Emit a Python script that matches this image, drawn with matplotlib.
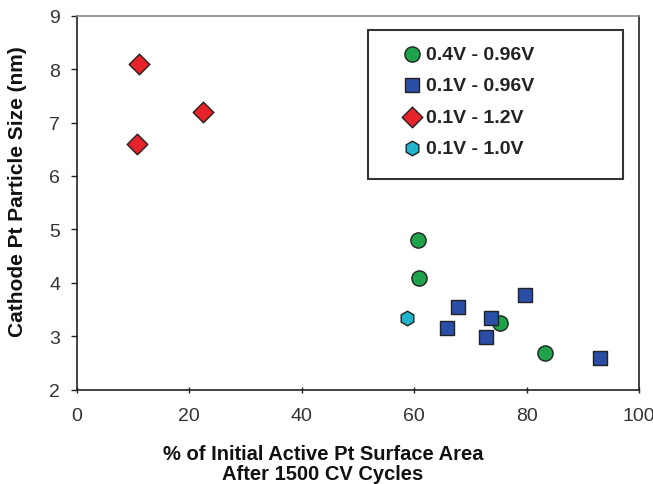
import matplotlib
matplotlib.use("Agg")
import matplotlib.pyplot as plt
from matplotlib.patches import Rectangle

plt.rcParams['font.family'] = ['Liberation Sans', 'DejaVu Sans']

# Data
green_x = [60.6, 60.9, 75.3, 83.2]
green_y = [4.8, 4.09, 3.24, 2.69]
blue_x = [67.8, 65.8, 73.6, 72.8, 79.7, 93.0]
blue_y = [3.55, 3.15, 3.35, 2.99, 3.77, 2.59]
red_x = [11.1, 22.4, 10.7]
red_y = [8.1, 7.2, 6.6]
cyan_x = [58.7]
cyan_y = [3.35]
labels = ["0.4V - 0.96V", "0.1V - 0.96V", "0.1V - 1.2V", "0.1V - 1.0V"]
xticks = [0, 20, 40, 60, 80, 100]
yticks = [2, 3, 4, 5, 6, 7, 8, 9]

W, H = 653, 485
fig = plt.figure(figsize=(W/100, H/100), dpi=100)
ax = fig.add_axes([76.7/W, 1-390.7/H, (639.3-76.7)/W, (390.7-16.7)/H])

ec = '#222222'
h1 = ax.scatter(green_x, green_y, s=120, marker='o', c='#1fa34a', edgecolors=ec, linewidths=1.0, zorder=3, label=labels[0])
h2 = ax.scatter(blue_x, blue_y, s=95, marker='s', c='#2a4ea6', edgecolors=ec, linewidths=1.0, zorder=4, label=labels[1])
h3 = ax.scatter(red_x, red_y, s=110, marker='D', c='#e6222a', edgecolors=ec, linewidths=1.0, zorder=5, label=labels[2])
h4 = ax.scatter(cyan_x, cyan_y, s=110, marker='h', c='#22b4cc', edgecolors=ec, linewidths=1.0, zorder=6, label=labels[3])

ax.set_xlim(0, 100)
ax.set_ylim(2, 9)
ax.set_xticks(xticks)
ax.set_yticks(yticks)
ax.tick_params(axis='both', labelsize=14, colors='#222222', labelcolor='#333333')
ax.tick_params(axis='y', direction='out', length=4, pad=8, width=1)
ax.tick_params(axis='x', direction='inout', length=5, pad=10, width=1)

for side in ['left', 'bottom', 'right']:
    ax.spines[side].set_color('#222222')
    ax.spines[side].set_linewidth(1.2)
ax.spines['top'].set_color('#888888')
ax.spines['top'].set_linewidth(1.2)

# Axis labels
fig.text(323/W, 1-445/H, "% of Initial Active Pt Surface Area\nAfter 1500 CV Cycles",
         ha='center', va='top', fontsize=14.5, fontweight='bold', linespacing=1.08, color='#111111')
fig.text(18/W, 1-192/H, "Cathode Pt Particle Size (nm)", rotation=90,
         ha='center', va='center', fontsize=15, fontweight='bold', color='#111111')

# Legend
leg = ax.legend(handles=[h1, h2, h3, h4], loc='upper left',
                bbox_to_anchor=(404/W, 1-46/H), bbox_transform=fig.transFigure,
                frameon=False, borderpad=0, handlelength=0.85, handletextpad=0.3,
                labelspacing=0.72, prop={'weight': 'bold', 'size': 14}, borderaxespad=0)
for t in leg.get_texts():
    t.set_color('#222222')
fig.add_artist(Rectangle((368/W, 1-180/H), (623-368)/W, (180-31)/H,
                         transform=fig.transFigure, fill=False, edgecolor='#333333', linewidth=1.5))

fig.savefig("out.png", dpi=100)
